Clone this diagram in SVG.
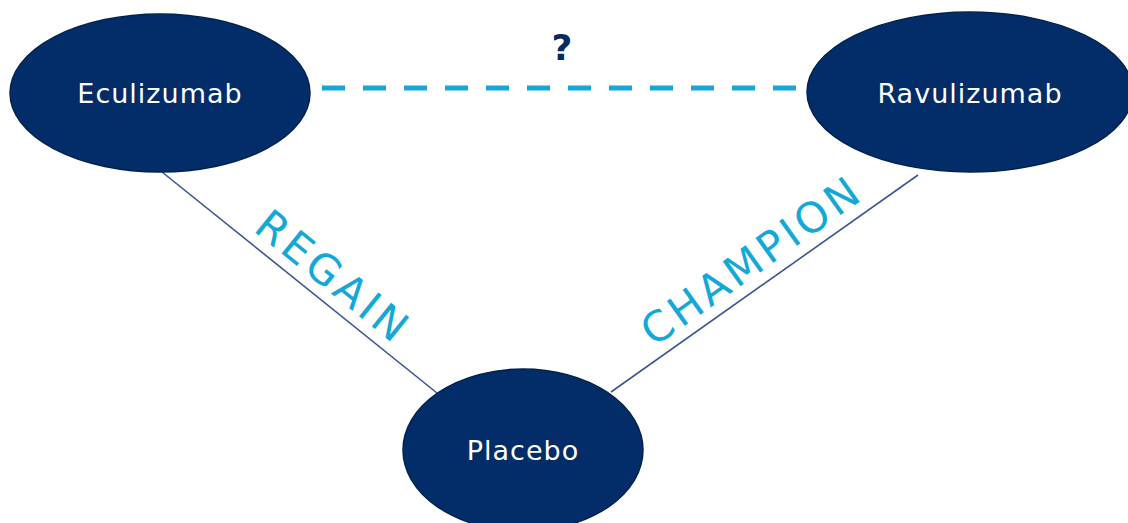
<svg xmlns="http://www.w3.org/2000/svg" width="1128" height="523" viewBox="0 0 1128 523">
<style>
.node{fill:#022D69;stroke:#01224F;stroke-width:1.5}
.nt{fill:#FFFFFF;font-family:"DejaVu Sans",sans-serif;font-size:27px;letter-spacing:1px;text-anchor:middle}
.edge{stroke:#3A5691;stroke-width:1.6;fill:none}
.dash{stroke:#13A8D6;stroke-width:5;stroke-dasharray:23 18;fill:none}
.lbl{fill:#13A8D6;font-family:"DejaVu Sans",sans-serif;font-size:42px;letter-spacing:4px;text-anchor:middle}
</style>
<rect width="1128" height="523" fill="#FFFFFF"/>
<g id="connectors">
<line class="edge" x1="162" y1="172" x2="437" y2="393"/>
<line class="edge" x1="918" y1="175" x2="611" y2="392"/>
<line class="dash" x1="322" y1="88" x2="808" y2="88"/>
<text x="562" y="60" font-family="DejaVu Sans, sans-serif" font-size="36" font-weight="bold" fill="#0A2A5E" text-anchor="middle">?</text>
<text class="lbl" transform="translate(318,296) rotate(38.9)" x="0" y="-10">REGAIN</text>
<text class="lbl" transform="translate(767,282) rotate(-35.4)" x="0" y="-12">CHAMPION</text>
</g>
<g id="eculizumab">
<ellipse class="node" cx="160" cy="93" rx="150" ry="79"/>
<text class="nt" x="160" y="103">Eculizumab</text>
</g>
<g id="ravulizumab">
<ellipse class="node" cx="970" cy="92" rx="163" ry="80"/>
<text class="nt" x="970" y="103">Ravulizumab</text>
</g>
<g id="placebo">
<ellipse class="node" cx="523" cy="450" rx="120" ry="81"/>
<text class="nt" x="523" y="460">Placebo</text>
</g>
</svg>
